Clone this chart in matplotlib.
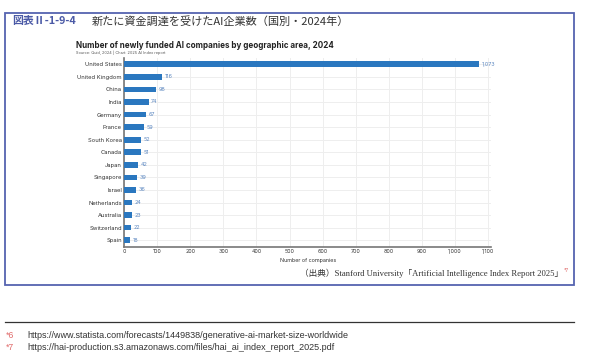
import matplotlib
matplotlib.use("Agg")
import matplotlib.pyplot as plt
from matplotlib.patches import Rectangle
from matplotlib.lines import Line2D

# data
countries = ["United States", "United Kingdom", "China", "India", "Germany", "France",
             "South Korea", "Canada", "Japan", "Singapore", "Israel", "Netherlands",
             "Australia", "Switzerland", "Spain"]
companies = [1073, 116, 98, 74, 67, 59, 52, 51, 42, 39, 36, 24, 23, 22, 18]
xticks = [0, 100, 200, 300, 400, 500, 600, 700, 800, 900, 1000, 1100]

jp = ["Noto Sans CJK JP", "DejaVu Sans"]
serif = ["Liberation Serif", "Noto Sans CJK JP"]
sans = ["Inter", "DejaVu Sans"]

fig = plt.figure(figsize=(5.92, 3.61), dpi=100)
W, H = 592, 361

def fx(px):
    return px / W

def fy(py):
    return 1 - py / H

# outer frame
fig.patches.append(Rectangle((fx(5), fy(285)), fx(569), (285 - 13) / H,
                             transform=fig.transFigure, fill=False,
                             edgecolor="#5563b0", linewidth=1.3))

fig.text(fx(12), fy(21), "図表Ⅱ-1-9-4", family=jp, fontsize=7.8, color="#4b5aa6",
         va="center", fontweight="bold")
fig.text(fx(92), fy(21), "新たに資金調達を受けたAI企業数（国別・2024年）", family=jp,
         fontsize=8.0, color="#333333", va="center")

fig.text(fx(76), fy(45), "Number of newly funded AI companies by geographic area, 2024",
         family=sans, fontsize=5.8, fontweight="bold", color="#222222", va="center")
fig.text(fx(76), fy(52.5), "Source: Quid, 2024 | Chart: 2025 AI Index report",
         family=sans, fontsize=2.8, color="#555555", va="center")

ax = fig.add_axes([fx(124), fy(246.5), fx(491.5 - 124), (246.5 - 58) / H])
y = list(range(len(countries)))
ax.barh(y, companies, height=0.45, color="#2a77bf", zorder=3)
for yi, v in zip(y, companies):
    ax.text(v + 8, yi, f"{v:,}", fontsize=3.9, color="#5a86c0", va="center",
            family=sans, zorder=4)

ax.set_xlim(0, 1110)
ax.set_ylim(len(countries) - 0.5, -0.5)
ax.set_yticks(y)
ax.set_yticklabels(countries, fontsize=4.2, family=sans, color="#333333")
ax.set_xticks(xticks)
ax.set_xticklabels([f"{t:,}" for t in xticks], fontsize=3.8, family=sans, color="#333333")
ax.tick_params(length=0, pad=1.5)
ax.set_xlabel("Number of companies", fontsize=3.9, family=sans, color="#333333", labelpad=3)

ax.grid(True, color="#eeeeee", linewidth=0.7, zorder=0)
ax.set_axisbelow(True)
for s in ["top", "right"]:
    ax.spines[s].set_visible(False)
for s in ["left", "bottom"]:
    ax.spines[s].set_color("#777777")
    ax.spines[s].set_linewidth(1.2)

# source line under the chart
fig.text(fx(563), fy(273), "（出典）Stanford University「Artificial Intelligence Index Report 2025」",
         family=serif, fontsize=6.2, color="#333333", ha="right", va="center")
fig.text(fx(564), fy(270), "*7", family=sans, fontsize=3.5, color="#e06a6a",
         ha="left", va="center")

# footnotes
fig.lines.append(Line2D([fx(5), fx(574)], [fy(321.5), fy(321.5)], transform=fig.transFigure,
                        color="#333333", linewidth=0.9))
for yy, mark, url in [(336, "*6", "https://www.statista.com/forecasts/1449838/generative-ai-market-size-worldwide"),
                      (347, "*7", "https://hai-production.s3.amazonaws.com/files/hai_ai_index_report_2025.pdf")]:
    fig.text(fx(6), fy(yy), mark, family=["Liberation Sans"], fontsize=6.3, color="#e06a6a", va="center")
    fig.text(fx(27), fy(yy), url, family=["Liberation Sans"], fontsize=6.5, color="#333333", va="center")

fig.savefig("out.png", dpi=100)
